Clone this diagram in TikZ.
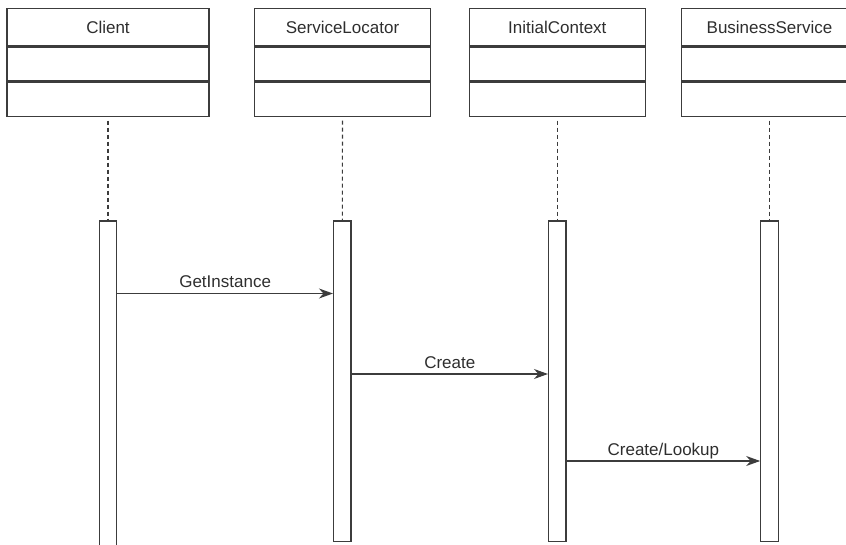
\documentclass[tikz,border=0pt]{standalone}
\usepackage{fontspec}
\setmainfont{Liberation Sans}
\usetikzlibrary{arrows.meta}
\definecolor{lc}{HTML}{3C3C3C}
\definecolor{tc}{HTML}{2E2E2E}
\tikzset{
  cls/.style={draw=lc, line width=1.2pt, minimum height=37.5pt, text=tc, inner sep=0pt,
              font=\fontsize{17}{20}\selectfont},
  comp/.style={draw=lc, line width=1.2pt, minimum height=34pt, anchor=north, inner sep=0pt},
  act/.style={draw=lc, line width=1.2pt, minimum width=17.5pt, anchor=north, inner sep=0pt, fill=white},
  life/.style={draw=lc, line width=1.1pt, dash pattern=on 4pt off 3pt},
  msg/.style={draw=lc, line width=1.2pt, -{Stealth[length=14pt,width=10pt,inset=4.5pt]}},
  lbl/.style={text=tc, anchor=base, yshift=6pt, inner sep=0pt, font=\fontsize{17}{20}\selectfont}
}
\begin{document}
\begin{tikzpicture}[x=1pt,y=1pt]
\useasboundingbox (0,0) rectangle (846,-545);
\clip (0,0) rectangle (846,-545);
% class headers
\node[cls, minimum width=202pt] (c1) at (108,-27) {Client};
\node[comp, minimum width=202pt] (c2) at (c1.south) {};
\node[comp, minimum width=202pt] (c3) at (c2.south) {};

\node[cls, minimum width=176pt] (s1) at (342.5,-27) {ServiceLocator};
\node[comp, minimum width=176pt] (s2) at (s1.south) {};
\node[comp, minimum width=176pt] (s3) at (s2.south) {};

\node[cls, minimum width=176pt] (i1) at (557.3,-27) {InitialContext};
\node[comp, minimum width=176pt] (i2) at (i1.south) {};
\node[comp, minimum width=176pt] (i3) at (i2.south) {};

\node[cls, minimum width=176pt] (b1) at (769.5,-27) {BusinessService};
\node[comp, minimum width=176pt] (b2) at (b1.south) {};
\node[comp, minimum width=176pt] (b3) at (b2.south) {};

% activation bars
\node[act, minimum height=335pt] (ca) at (108,-220.5) {};
\node[act, minimum height=320pt] (sa) at (342.3,-220.5) {};
\node[act, minimum height=320pt] (ia) at (557.3,-220.5) {};
\node[act, minimum height=320pt] (ba) at (769.5,-220.5) {};

% lifelines
\draw[life] ([yshift=-4pt]c3.south) -- (ca.north);
\draw[life] ([yshift=-4pt]s3.south) -- (sa.north);
\draw[life] ([yshift=-4pt]i3.south) -- (ia.north);
\draw[life] ([yshift=-4pt]b3.south) -- (ba.north);

% messages
\coordinate (m1) at (0,-293.5);
\coordinate (m2) at (0,-374);
\coordinate (m3) at (0,-461);
\draw[msg] (ca.east |- m1) -- (sa.west |- m1) node[lbl, midway] {GetInstance};
\draw[msg] (sa.east |- m2) -- (ia.west |- m2) node[lbl, midway] {Create};
\draw[msg] (ia.east |- m3) -- (ba.west |- m3) node[lbl, midway] {Create/Lookup};
\end{tikzpicture}
\end{document}
